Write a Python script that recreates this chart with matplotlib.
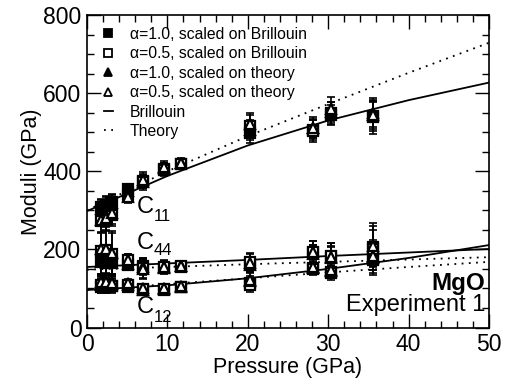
import matplotlib
matplotlib.use("Agg")
import matplotlib.pyplot as plt
from matplotlib.lines import Line2D
from matplotlib.ticker import MultipleLocator

plt.rcParams["font.family"] = ["Liberation Sans", "DejaVu Sans"]

# Pressure grid of the fitted curves (GPa)
curve_p = [0, 10, 20, 30, 40, 50]
c11_brillouin = [298, 388, 466, 530, 582, 627]
c11_theory = [300, 400, 490, 572, 652, 729]
c44_brillouin = [155, 164, 173, 183, 192, 201]
c44_theory = [148, 155, 162, 168, 174, 180]
c12_brillouin = [96, 108, 126, 150, 178, 211]
c12_theory = [96, 111, 126, 141, 155, 168]

# Measured pressures (GPa)
pressure = [1.8, 2.4, 3.1, 5.1, 7.0, 9.6, 11.7, 20.3, 28.1, 30.3, 35.6]

# C11 (GPa)
c11_a10_bril = [308, 314, 321, 355, 376, 406, 419, 498, 506, 545, 542]
c11_a05_bril = [273, 276, 288, 336, 372, 404, 418, 515, 504, 548, 538]
c11_a10_theo = [304, 312, 318, 350, 372, 408, 420, 505, 510, 552, 548]
c11_a05_theo = [275, 280, 293, 333, 378, 410, 421, 520, 512, 560, 545]
c11_err_a10 = [22, 22, 20, 12, 14, 14, 10, 25, 25, 25, 35]
c11_err_a05 = [30, 30, 28, 15, 20, 16, 12, 30, 28, 30, 42]

# C44 (GPa)
c44_a10_bril = [172, 170, 168, 160, 158, 152, 156, 162, 190, 180, 205]
c44_a05_bril = [196, 198, 188, 173, 152, 155, 157, 168, 193, 182, 200]
c44_a10_theo = [168, 166, 165, 162, 155, 153, 157, 160, 188, 178, 180]
c44_a05_theo = [201, 200, 191, 172, 150, 156, 158, 165, 194, 181, 208]
c44_err_a10 = [35, 35, 30, 12, 20, 14, 8, 18, 22, 28, 45]
c44_err_a05 = [65, 60, 55, 15, 25, 16, 10, 22, 28, 35, 60]

# C12 (GPa)
c12_a10_bril = [104, 104, 105, 104, 96, 97, 104, 113, 152, 142, 176]
c12_a05_bril = [108, 108, 106, 108, 98, 98, 103, 110, 150, 140, 172]
c12_a10_theo = [110, 112, 112, 110, 97, 99, 104, 118, 153, 144, 178]
c12_a05_theo = [116, 116, 115, 113, 100, 100, 106, 122, 155, 146, 182]
c12_err_a10 = [15, 15, 14, 8, 10, 8, 8, 14, 12, 15, 20]
c12_err_a05 = [20, 20, 18, 10, 12, 10, 8, 18, 15, 18, 25]

legend_labels = [
    "\u03b1=1.0, scaled on Brillouin",
    "\u03b1=0.5, scaled on Brillouin",
    "\u03b1=1.0, scaled on theory",
    "\u03b1=0.5, scaled on theory",
    "Brillouin",
    "Theory",
]

fig = plt.figure(figsize=(5.05, 3.83), dpi=100)
ax = fig.add_axes([0.1723, 0.1449, 0.7960, 0.8159])

dotted = (0, (1, 3))
for yb, yt in [(c11_brillouin, c11_theory), (c44_brillouin, c44_theory),
               (c12_brillouin, c12_theory)]:
    ax.plot(curve_p, yb, color="black", lw=1.3, zorder=2)
    ax.plot(curve_p, yt, color="black", lw=1.3, ls=dotted, zorder=2)

styles = [
    dict(marker="s", mfc="black"),
    dict(marker="s", mfc="white"),
    dict(marker="^", mfc="black"),
    dict(marker="^", mfc="white"),
]
groups = [
    (c11_a10_bril, c11_a05_bril, c11_a10_theo, c11_a05_theo, c11_err_a10, c11_err_a05),
    (c44_a10_bril, c44_a05_bril, c44_a10_theo, c44_a05_theo, c44_err_a10, c44_err_a05),
    (c12_a10_bril, c12_a05_bril, c12_a10_theo, c12_a05_theo, c12_err_a10, c12_err_a05),
]
for g in groups:
    errs = [g[4], g[5], g[4], g[5]]
    for k in range(4):
        ax.errorbar(pressure, g[k], yerr=errs[k], fmt="none", ecolor="black",
                    elinewidth=1.2, capsize=3, capthick=1.2, zorder=3)
    for k in range(4):
        ax.plot(pressure, g[k], ls="none", mec="black", mew=1.6, ms=7,
                zorder=4 + k, **styles[k])

# Modulus labels: letter plus lowered index
for name, sub, yc, ys in [("C", "11", 308, 284), ("C", "44", 216, 196),
                          ("C", "12", 52, 26)]:
    ax.text(7.2, yc, name, fontsize=17, ha="center", va="center")
    ax.text(9.4, ys, sub, fontsize=12, ha="center", va="center")

ax.text(0.99, 0.142, "MgO", transform=ax.transAxes, fontsize=17.5,
        fontweight="bold", ha="right", va="center")
ax.text(0.99, 0.072, "Experiment 1", transform=ax.transAxes, fontsize=17,
        ha="right", va="center")

handles = [
    Line2D([], [], ls="none", marker="s", mfc="black", mec="black", ms=6, mew=1.3),
    Line2D([], [], ls="none", marker="s", mfc="white", mec="black", ms=6, mew=1.3),
    Line2D([], [], ls="none", marker="^", mfc="black", mec="black", ms=6, mew=1.3),
    Line2D([], [], ls="none", marker="^", mfc="white", mec="black", ms=6, mew=1.3),
    Line2D([], [], color="black", lw=1.3),
    Line2D([], [], color="black", lw=1.3, ls=dotted),
]
ax.legend(handles, legend_labels, loc="upper left", frameon=False,
          fontsize=11.3, handlelength=0.55, handletextpad=1.1,
          labelspacing=0.28, borderaxespad=0.3, bbox_to_anchor=(0.015, 0.997))

ax.set_xlim(0, 50)
ax.set_ylim(0, 800)
ax.xaxis.set_major_locator(MultipleLocator(10))
ax.xaxis.set_minor_locator(MultipleLocator(2))
ax.yaxis.set_major_locator(MultipleLocator(200))
ax.yaxis.set_minor_locator(MultipleLocator(50))
ax.tick_params(which="both", direction="in", top=True, right=True,
               labelsize=16.5, width=1.0)
ax.tick_params(which="major", length=10, pad=4)
ax.tick_params(which="minor", length=5)
for s in ax.spines.values():
    s.set_linewidth(1.2)

ax.set_xlabel("Pressure (GPa)", fontsize=15.5, labelpad=1)
ax.set_ylabel("Moduli (GPa)", fontsize=15.5, labelpad=1)

fig.savefig("out.png", dpi=100)
